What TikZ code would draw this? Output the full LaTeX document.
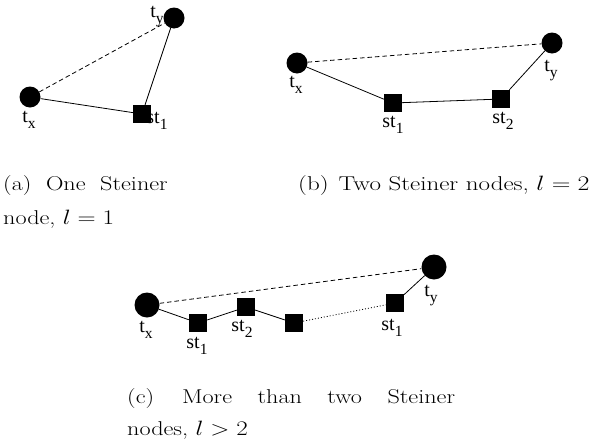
\documentclass[tikz,border=0pt]{standalone}
\usepackage{fontspec}
\usepackage{graphicx}
\newfontfamily\labfont{Liberation Serif}
\newcommand\tlab[2]{{\labfont\fontsize{20}{20}\selectfont #1\raisebox{-0.3em}{\fontsize{15.5}{15.5}\selectfont #2}}}
\newcommand\capline[1]{\scalebox{1.21}[1]{#1}}
\newcommand\capjust[2]{\scalebox{1.21}[1]{\makebox[#1][s]{#2}}}
\begin{document}
\begin{tikzpicture}[x=1pt,y=-1pt,
  term/.style={circle,fill=black,draw=none,inner sep=0pt,minimum size=21pt},
  bigterm/.style={circle,fill=black,draw=none,inner sep=0pt,minimum size=25pt},
  stn/.style={rectangle,fill=black,draw=none,inner sep=0pt,minimum size=18pt},
  solidedge/.style={line width=0.8pt},
  dashedge/.style={line width=0.8pt,dash pattern=on 4.5pt off 3pt},
  dotedge/.style={line width=0.8pt,dash pattern=on 1pt off 2pt},
  tl/.style={inner sep=0pt,anchor=center},
  captxt/.style={inner sep=0pt,anchor=base west,font=\fontsize{20}{24}\selectfont}]
\useasboundingbox (0,0) rectangle (594,442);
% (a)
\node[term] (ax) at (30,97) {};
\node[term] (ay) at (174,18) {};
\node[stn] (as1) at (142,114) {};
\draw[dashedge] (ax) -- (ay);
\draw[solidedge] (ax) -- (as1);
\draw[solidedge] (as1) -- (ay);
\node[tl] (axl) at (29,120) {\tlab{t}{x}};
\node[tl] (ayl) at (157,17) {\tlab{t}{y}};
\node[tl] (as1l) at (157,121) {\tlab{st}{1}};
% (b)
\node[term] (bx) at (297,63) {};
\node[term] (by) at (552,43) {};
\node[stn] (bs1) at (393,103) {};
\node[stn] (bs2) at (501,99) {};
\draw[dashedge] (bx) -- (by);
\draw[solidedge] (bx) -- (bs1);
\draw[solidedge] (bs1) -- (bs2);
\draw[solidedge] (bs2) -- (by);
\node[tl] (bxl) at (296,85) {\tlab{t}{x}};
\node[tl] (byl) at (551,71) {\tlab{t}{y}};
\node[tl] (bs1l) at (393,125) {\tlab{st}{1}};
\node[tl] (bs2l) at (503,121) {\tlab{st}{2}};
% (c)
\node[bigterm] (cx) at (147,305) {};
\node[bigterm] (cy) at (434,267) {};
\node[stn] (c1) at (198,323) {};
\node[stn] (c2) at (246,307) {};
\node[stn] (c3) at (294,323) {};
\node[stn] (c4) at (395,303) {};
\draw[dashedge] (cx) -- (cy);
\draw[solidedge] (cx) -- (c1);
\draw[solidedge] (c1) -- (c2);
\draw[solidedge] (c2) -- (c3);
\draw[dotedge] (c3) -- (c4);
\draw[solidedge] (c4) -- (cy);
\node[tl] (cxl) at (146,330) {\tlab{t}{x}};
\node[tl] (cyl) at (431,296) {\tlab{t}{y}};
\node[tl] (c1l) at (197,346) {\tlab{st}{1}};
\node[tl] (c2l) at (242,329) {\tlab{st}{2}};
\node[tl] (c4l) at (392,328) {\tlab{st}{1}};
% captions
\node[captxt] (capa1) at (3,190.7) {\capjust{136pt}{(a) One Steiner}};
\node[captxt] (capa2) at (3,224) {\capline{node, $l=1$}};
\node[captxt] (capb) at (298,190.7) {\scalebox{1.25}[1]{(b)\hspace{8pt}Two Steiner nodes, $l=2$}};
\node[captxt] (capc1) at (127,403) {\capjust{271pt}{(c)\hspace{2pt} More than two Steiner}};
\node[captxt] (capc2) at (127,435) {\capline{nodes, $l>2$}};
\end{tikzpicture}
\end{document}
